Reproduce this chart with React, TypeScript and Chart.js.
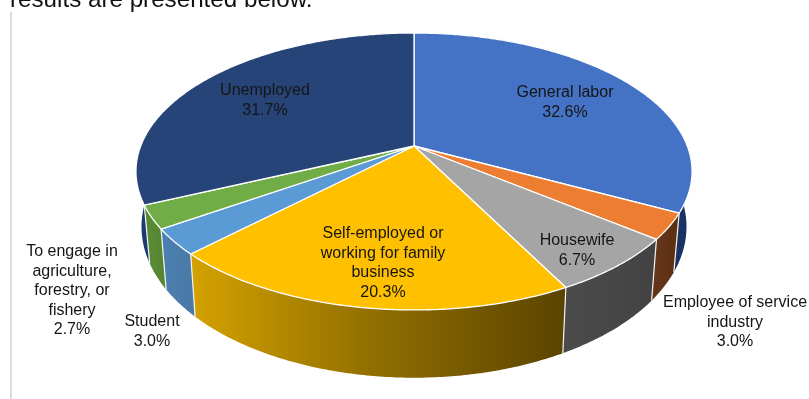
import React, { useEffect, useRef } from "react";
import { Chart, registerables } from "chart.js";

Chart.register(...registerables);

// Shares of respondents by occupation, in percent, clockwise from twelve o'clock.
const categories = [
  "General labor",
  "Employee of service industry",
  "Housewife",
  "Self-employed or working for family business",
  "Student",
  "To engage in agriculture, forestry, or fishery",
  "Unemployed",
];
const shares = [32.6, 3.0, 6.7, 20.3, 3.0, 2.7, 31.7];

const faceColors = ["#4472C4", "#ED7D31", "#A5A5A5", "#FFC000", "#5B9BD5", "#70AD47", "#264478"];
// Rim colours, one gradient (left to right) per slice.
const wallColors = [
  ["#1a3364", "#1a3364"],
  ["#64351a", "#5c2f10"],
  ["#4b4b4b", "#424242"],
  ["#d4a200", "#8f6d00", "#5a4400"],
  ["#4a80b2", "#4a7aa6"],
  ["#5a8c36", "#578632"],
  ["#1c3a70", "#1c3a70"],
];

// Wrapped label lines and where each block is centred.
const labelLines = [
  ["General labor"],
  ["Employee of service", "industry"],
  ["Housewife"],
  ["Self-employed or", "working for family", "business"],
  ["Student"],
  ["To engage in", "agriculture,", "forestry, or", "fishery"],
  ["Unemployed"],
];
const labelCentres = [
  [565, 93],
  [735, 303],
  [577, 241],
  [383, 234],
  [152, 322],
  [72, 252],
  [265, 91],
];

const heading = "results are presented below.";

// Projection of the tilted disc: apex position, half width, half height and perspective.
const APEX_X = 414;
const APEX_Y = 146;
const SPREAD_X = 273.3;
const SPREAD_Y = 133.8;
const PERSPECTIVE = -0.184;
const LOWER_SCALE_X = 0.98;

const upper = (angle: number) => {
  const w = 1 + PERSPECTIVE * Math.sin(angle);
  return {
    x: APEX_X + (SPREAD_X * Math.cos(angle)) / w,
    y: APEX_Y + (SPREAD_Y * Math.sin(angle)) / w,
  };
};

const lower = (angle: number) => {
  const p = upper(angle);
  return {
    x: APEX_X + (p.x - APEX_X) * LOWER_SCALE_X,
    y: p.y + 59 + 0.09 * (p.y - 213),
  };
};

const sampleAngles = (start: number, end: number) => {
  const count = Math.max(2, Math.ceil((end - start) / 0.01));
  const out: number[] = [];
  for (let i = 0; i <= count; i++) out.push(start + ((end - start) * i) / count);
  return out;
};

const perspectivePie = {
  id: "perspectivePie",
  // Replaces the flat arcs with a projected disc built from the arc angles.
  beforeDatasetsDraw(chart: any) {
    const { ctx } = chart;
    const arcs = chart.getDatasetMeta(0).data as any[];

    ctx.save();
    ctx.fillStyle = "#ffffff";
    ctx.fillRect(0, 0, chart.width, chart.height);

    // Page furniture behind the chart.
    ctx.fillStyle = "#dcdcdc";
    ctx.fillRect(10, 12, 2, chart.height - 12);
    ctx.fillStyle = "#111111";
    ctx.font = "24.2px 'Liberation Sans'";
    ctx.textAlign = "left";
    ctx.textBaseline = "alphabetic";
    ctx.fillText(heading, 10, 7);

    ctx.lineJoin = "round";

    // Rim walls, back to front.
    const order = arcs
      .map((arc, i) => ({ arc, i }))
      .sort(
        (a, b) =>
          Math.sin((a.arc.startAngle + a.arc.endAngle) / 2) -
          Math.sin((b.arc.startAngle + b.arc.endAngle) / 2),
      );
    for (const { arc, i } of order) {
      const angles = sampleAngles(arc.startAngle, arc.endAngle);
      const top = angles.map(upper);
      const bottom = angles.map(lower).reverse();
      const xs = top.map((p) => p.x);
      const grad = ctx.createLinearGradient(Math.min(...xs), 0, Math.max(...xs), 0);
      wallColors[i].forEach((c, k) => grad.addColorStop(k / (wallColors[i].length - 1), c));
      ctx.beginPath();
      [...top, ...bottom].forEach((p, k) => (k ? ctx.lineTo(p.x, p.y) : ctx.moveTo(p.x, p.y)));
      ctx.closePath();
      ctx.fillStyle = grad;
      ctx.fill();
    }
    ctx.strokeStyle = "#f4f4f4";
    ctx.lineWidth = 1.2;
    for (const arc of arcs) {
      const a = upper(arc.startAngle);
      const b = lower(arc.startAngle);
      ctx.beginPath();
      ctx.moveTo(a.x, a.y);
      ctx.lineTo(b.x, b.y);
      ctx.stroke();
    }

    // Top faces with white seams.
    arcs.forEach((arc) => {
      const rim = sampleAngles(arc.startAngle, arc.endAngle).map(upper);
      ctx.beginPath();
      ctx.moveTo(APEX_X, APEX_Y);
      rim.forEach((p) => ctx.lineTo(p.x, p.y));
      ctx.closePath();
      ctx.fillStyle = arc.options.backgroundColor;
      ctx.fill();
      ctx.strokeStyle = "#ffffff";
      ctx.lineWidth = 1.3;
      ctx.stroke();
    });

    // Data labels.
    ctx.fillStyle = "#151515";
    ctx.font = "16px 'Liberation Sans'";
    ctx.textAlign = "center";
    ctx.textBaseline = "middle";
    const values = chart.data.datasets[0].data as number[];
    labelLines.forEach((lines, i) => {
      const [x, y] = labelCentres[i];
      [...lines, `${values[i].toFixed(1)}%`].forEach((line, k) => {
        ctx.fillText(line, x, y + k * 19.4);
      });
    });

    ctx.restore();
    return false;
  },
};

export default function App() {
  const ref = useRef<HTMLCanvasElement>(null);

  useEffect(() => {
    document.body.style.margin = "0";
    const chart = new Chart(ref.current!, {
      type: "pie",
      data: {
        labels: categories,
        datasets: [{ data: shares, backgroundColor: faceColors, borderWidth: 0 }],
      },
      options: {
        animation: false,
        responsive: false,
        events: [],
        plugins: { legend: { display: false }, tooltip: { enabled: false } },
      },
      plugins: [perspectivePie],
    });
    return () => chart.destroy();
  }, []);

  return (
    <canvas
      ref={ref}
      width={809}
      height={399}
      style={{ display: "block", width: 809, height: 399 }}
    />
  );
}
